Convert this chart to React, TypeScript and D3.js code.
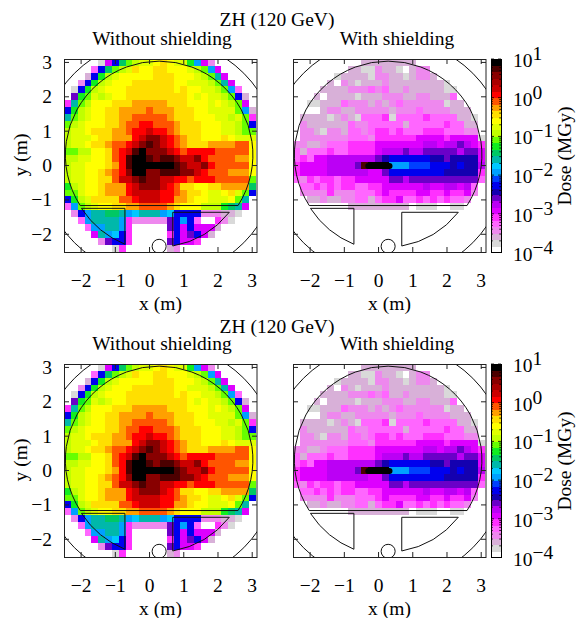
import React from "react";
import * as d3 from "d3";

const withoutRows = [
  ".....gPbeLlyyYoYyyGcPv......",
  "....mbeLlyoYYooYYYylLcP.....",
  "...tbGlyYYYYYoooYYYylLTP....",
  "..vbGlyYYYooooooYYyyylLTP...",
  ".gbGlyYYYoooooooYoYYyylLcm..",
  ".uGLylyYYoooooooooYyYyylLbt.",
  "MTLlYYYoooOOOOOoooYYYyYylLP.",
  "bGlyYYooOOOOrOOOoooYYyyyyLct",
  "TLlyYYooOOrrrrrOoooYYYyylyLM",
  "LlyYYYooOrrRRrrrOoooYYYyylLb",
  "lyyYoooOOrRRdRRrOoooYYYyylLL",
  "lyyyYooOOORdDDdRrOooYYYoYyyy",
  "lyyYooOrrRdDkDdRrOoooOOOOrrY",
  "LLllYYorRdkKDDDdRrRRRRrrrrrY",
  "llyyYYorRkKKkDkkDddDRrrrrOOY",
  "lyyYYYoORkKKKKKKkDddDRrrrrrY",
  "lyyYYoOrRDKKDDkkkDDdRrrrOOOY",
  "lyyYYoorddDkDDddRRrRRRrrrrrL",
  "GlyYYoOOORdDDDdRrooYYooOOOOe",
  "LLyYYoOOORddddRRrOooYyyYoyLb",
  "bGlyoooorrRdddRROOoYYyyyYLT.",
  "mcLlyYYooOOrrrrOoYYYlllGeTP.",
  ".vbcTTeeTcCTTTcCbbbbvvvttg..",
  "..mcTTTTcMvvvvvubcbm..Mvg...",
  "...mccTTcM.....ubPbPPPt.....",
  "....PTcCbM.....MbPubPt......",
  ".....vubbM.....ubPPM........",
  ".......gM......tv...........",
];

const withRows = [
  "..........tttttttt..........",
  "........ttggvttg.tvv........",
  "......gttttgvvttgtvvt.......",
  ".....t.vtgtttvttttttttg.....",
  "....ttttvvvmvmttvtttttgg....",
  "...t.ttttgtttvvvttvvtttm....",
  "..ggtttmvvvtvtvmvvvvvvgtt...",
  "....tvvttvvvvvtvvvmvvvvttt..",
  ".ttttgtvtgmmmMgmmmmMmmmmttg.",
  ".vttttttmvvmmmmmtmmmmmMmmtt.",
  ".vvtgvvtmmvmMMmMmmmMMMmmmvv.",
  ".vvvvvvvmmmvMMMMMMPPPPMPPPPg",
  "vvttvmmmMMMMPPPPPPPppPppupPM",
  "mtmmmMmmMMMMPpppuppuuuuupuuP",
  "mMmPPpppppppuBbbbbbbBBuBBBBP",
  "MPPPPppppukKKKcccaaabbbBbBBp",
  "MPPPPppppppPPubbbbbbbbBBBBBM",
  "mvMmMMmMMPPPPPuupuuuuuuuuuum",
  ".mmMmMmMMmmMMPPPPPPpPPppPpm.",
  ".vvvvMvvvmmmMPMMMMPPMMPMMPv.",
  "..ttvttvvmmtmMMPmmMmMmMmmv..",
  "........ttttttttt.ggg..gg...",
  "............................",
  "............................",
  "............................",
  "............................",
  "............................",
  "............................",
];

const levelCodes = ".gtvmMPpuBbacCTeGLlyYoOrRdEDkK";
const paletteColors = [
  "#ffffff", "#d9d9d9", "#d8b0d8", "#ee88ee", "#ff66ff", "#ff30ff",
  "#dd00ff", "#bb00f5", "#6a00c8", "#1400b0", "#0000ee", "#0040ff",
  "#00a0ff", "#00c8ff", "#00b8aa", "#00c864", "#10ee20", "#66ff00",
  "#c0ff00", "#e0ff00", "#ffff00", "#ffdf00", "#ffa000", "#ff5500",
  "#ff0000", "#cc0000", "#aa0000", "#880000", "#4c0000", "#000000",
];

const xTicks = [-2, -1, 0, 1, 2, 3];
const yTicks = [-2, -1, 0, 1, 2, 3];
const barDecades = [1, 0, -1, -2, -3, -4];
const panelTitles = ["Without shielding", "With shielding"];
const mainTitle = "ZH (120 GeV)";

const FONT = "'Liberation Serif', serif";
const FS = 19.5;
const CELL = 0.2;
const GRID_X0 = -2.5;
const GRID_Y0 = 3.1;

const decode = (rows: string[]) =>
  rows.map((row) =>
    row
      .padEnd(28, ".")
      .split("")
      .map((ch) => -4 + (Math.max(levelCodes.indexOf(ch), 0) + 0.5) / 6)
  );

const withoutLog = decode(withoutRows);
const withLog = decode(withRows);

const color = d3.scaleQuantize<string>().domain([-4, 1]).range(paletteColors);

function Panel({ left, top, data, idBase, yLabels, title, titleX }: any) {
  const x = d3.scaleLinear().domain([-2.5, 3.14]).range([left, left + 193]);
  const y = d3.scaleLinear().domain([-2.53, 3.1]).range([top + 193.5, top]);
  const cx = 0.28;
  const cy = 0.31;
  const rm = 2.74;
  const sx = x(1) - x(0);
  const clip = `clip-${idBase}`;

  const chordY = -1.17;
  const a = Math.asin((cy - chordY) / rm);
  const main = d3.path();
  main.arc(x(cx), y(cy), rm * sx, Math.PI - a + 0, a + 0, false);
  main.closePath();

  const leftPad = `M${x(-1.99)},${y(-1.245)}L${x(-0.72)},${y(-1.245)}L${x(-0.72)},${y(-2.29)}A${2.77 * sx},${2.77 * sx} 0 0 1 ${x(-1.99)},${y(-1.245)}Z`;
  const rightPad = `M${x(0.678)},${y(-1.36)}L${x(2.33)},${y(-1.36)}A${2.72 * sx},${2.72 * sx} 0 0 1 ${x(0.678)},${y(-2.34)}Z`;

  return (
    <g>
      <defs>
        <clipPath id={clip}>
          <rect x={left} y={top} width={193} height={193.5} />
        </clipPath>
      </defs>
      <g clipPath={`url(#${clip})`} shapeRendering="crispEdges">
        {data.map((row: number[], r: number) =>
          row.map((v, c) => {
            const x0 = x(GRID_X0 + c * CELL);
            const y0 = y(GRID_Y0 - r * CELL);
            return (
              <rect
                key={`${r}-${c}`}
                x={x0}
                y={y0}
                width={x(GRID_X0 + (c + 1) * CELL) - x0 + 0.3}
                height={y(GRID_Y0 - (r + 1) * CELL) - y0 + 0.3}
                fill={color(v)}
              />
            );
          })
        )}
      </g>
      <g clipPath={`url(#${clip})`} fill="none" stroke="#111" strokeWidth={1}>
        <circle cx={x(cx)} cy={y(0.22)} r={3.5 * sx} />
        <path d={main.toString()} />
        <path d={leftPad} />
        <path d={rightPad} />
        <circle cx={x(0.28)} cy={y(-2.35)} r={0.205 * sx} fill="none" />
        <line x1={x(-0.3)} x2={x(0.32)} y1={y(-0.015)} y2={y(-0.015)} stroke="#000" strokeWidth={6} strokeLinecap="round" />
      </g>
      <rect x={left + 0.5} y={top + 0.5} width={192.5} height={193} fill="none" stroke="#222" strokeWidth={1} />
      <g stroke="#222" strokeWidth={1}>
        {xTicks.map((t) => (
          <g key={t}>
            <line x1={x(t)} x2={x(t)} y1={top + 193.5} y2={top + 188} />
            <line x1={x(t)} x2={x(t)} y1={top} y2={top + 5} />
          </g>
        ))}
        {yTicks.map((t) => (
          <g key={t}>
            <line x1={left} x2={left + 5} y1={y(t)} y2={y(t)} />
            <line x1={left + 193} x2={left + 188} y1={y(t)} y2={y(t)} />
          </g>
        ))}
      </g>
      <g fontFamily={FONT} fontSize={FS} fill="#000">
        {xTicks.map((t) => (
          <text key={t} x={x(t)} y={top + 227.5} textAnchor="middle">
            {t < 0 ? `\u2212${-t}` : t}
          </text>
        ))}
        {yLabels &&
          yTicks.map((t) => (
            <text key={t} x={left - 12} y={y(t) + 6.5} textAnchor="end">
              {t < 0 ? `\u2212${-t}` : t}
            </text>
          ))}
        {yLabels && (
          <text transform={`translate(27,${top + 96}) rotate(-90)`} textAnchor="middle">
            y (m)
          </text>
        )}
        <text x={left + 96.5} y={top + 251} textAnchor="middle">
          x (m)
        </text>
        <text x={titleX} y={top - 14.5} textAnchor="middle">
          {title}
        </text>
      </g>
    </g>
  );
}

function ColorBar({ top }: { top: number }) {
  const left = 491;
  const w = 10;
  const h = 193.5;
  const v = d3.scaleLog().domain([1e-4, 10]).range([top + h, top]);
  const bands = d3.range(paletteColors.length);
  const step = h / paletteColors.length;
  const minors = v.ticks().filter((t) => Math.abs(Math.log10(t) - Math.round(Math.log10(t))) > 1e-6);
  return (
    <g>
      <g shapeRendering="crispEdges">
        {bands.map((i) => (
          <rect key={i} x={left} y={top + h - (i + 1) * step} width={w} height={step + 0.5} fill={paletteColors[i]} />
        ))}
      </g>
      <rect x={left + 0.5} y={top + 0.5} width={w} height={h - 0.5} fill="none" stroke="#000" strokeWidth={1} />
      <g stroke="#000" strokeWidth={0.8}>
        {minors.map((t) => (
          <g key={t}>
            <line x1={left} x2={left + 1.8} y1={v(t)} y2={v(t)} />
            <line x1={left + w} x2={left + w - 1.8} y1={v(t)} y2={v(t)} />
          </g>
        ))}
        {barDecades.map((d) => (
          <g key={d}>
            <line x1={left} x2={left + 3} y1={v(10 ** d)} y2={v(10 ** d)} />
            <line x1={left + w} x2={left + w - 3} y1={v(10 ** d)} y2={v(10 ** d)} />
          </g>
        ))}
      </g>
      <g fontFamily={FONT} fontSize={FS} fill="#000">
        {barDecades.map((d) => (
          <text key={d} x={513} y={v(10 ** d) + 8}>
            10
            <tspan dy={-7}>{d < 0 ? `\u2212${-d}` : d}</tspan>
          </text>
        ))}
        <text transform={`translate(571,${top + 97}) rotate(-90)`} textAnchor="middle">
          Dose (MGy)
        </text>
      </g>
    </g>
  );
}

function Figure({ top, titleY }: { top: number; titleY: number }) {
  return (
    <g>
      <text x={277} y={titleY} textAnchor="middle" fontFamily={FONT} fontSize={FS}>
        {mainTitle}
      </text>
      <Panel left={64} top={top} data={withoutLog} idBase={`a${top}`} yLabels title={panelTitles[0]} titleX={162} />
      <Panel left={293} top={top} data={withLog} idBase={`b${top}`} yLabels={false} title={panelTitles[1]} titleX={397} />
      <ColorBar top={top} />
    </g>
  );
}

export default function App() {
  return (
    <svg width={576} height={618} style={{ position: "absolute", left: 0, top: 0, background: "#fff" }}>
      <Figure top={59} titleY={26} />
      <Figure top={364} titleY={333} />
    </svg>
  );
}
